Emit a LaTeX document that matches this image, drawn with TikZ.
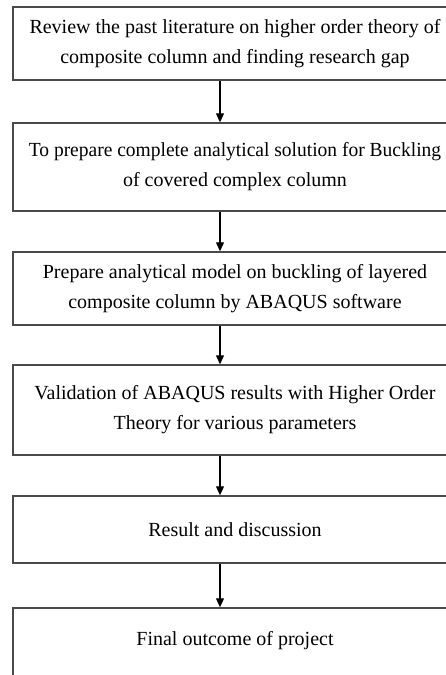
\documentclass[tikz,border=0pt]{standalone}
\usepackage{fontspec}
\usepackage{graphicx}
\setmainfont{Liberation Serif}
\usetikzlibrary{arrows.meta}
\definecolor{boxgray}{HTML}{4A4A4A}
\begin{document}
\begin{tikzpicture}[x=1pt,y=-1pt,
  box/.style={draw=boxgray, line width=1.4pt, minimum width=444pt, align=center,
    font=\fontsize{20}{30}\selectfont, inner sep=0pt},
  arr/.style={-{Triangle[length=9pt,width=8pt]}, line width=1.1pt, draw=black}]
\useasboundingbox (0,0) rectangle (446,675);
\clip (0,0) rectangle (446,675);
\fill[white] (0,0) rectangle (446,675);
\coordinate (ax) at (220,0);
\node[box, minimum height=73pt] (b1) at (235,43.5)
  {Review the past literature on higher order theory of\\composite column and finding research gap};
\node[box, minimum height=88pt] (b2) at (235,167)
  {\scalebox{0.975}[1]{To prepare complete analytical solution for Buckling}\\of covered complex column};
\node[box, minimum height=73pt] (b3) at (235,288.5)
  {Prepare analytical model on buckling of layered\\composite column by ABAQUS software};
\node[box, minimum height=90pt] (b4) at (235,410)
  {Validation of ABAQUS results with Higher Order\\Theory for various parameters};
\node[box, minimum height=67pt] (b5) at (235,529.5)
  {Result and discussion};
\node[box, minimum height=82pt, text depth=22pt] (b6) at (235,649)
  {Final outcome of project};
\draw[arr] (ax |- b1.south) -- (ax |- b2.north);
\draw[arr] (ax |- b2.south) -- (ax |- b3.north);
\draw[arr] (ax |- b3.south) -- (ax |- b4.north);
\draw[arr] (ax |- b4.south) -- (ax |- b5.north);
\draw[arr] (ax |- b5.south) -- (ax |- b6.north);
\end{tikzpicture}
\end{document}
